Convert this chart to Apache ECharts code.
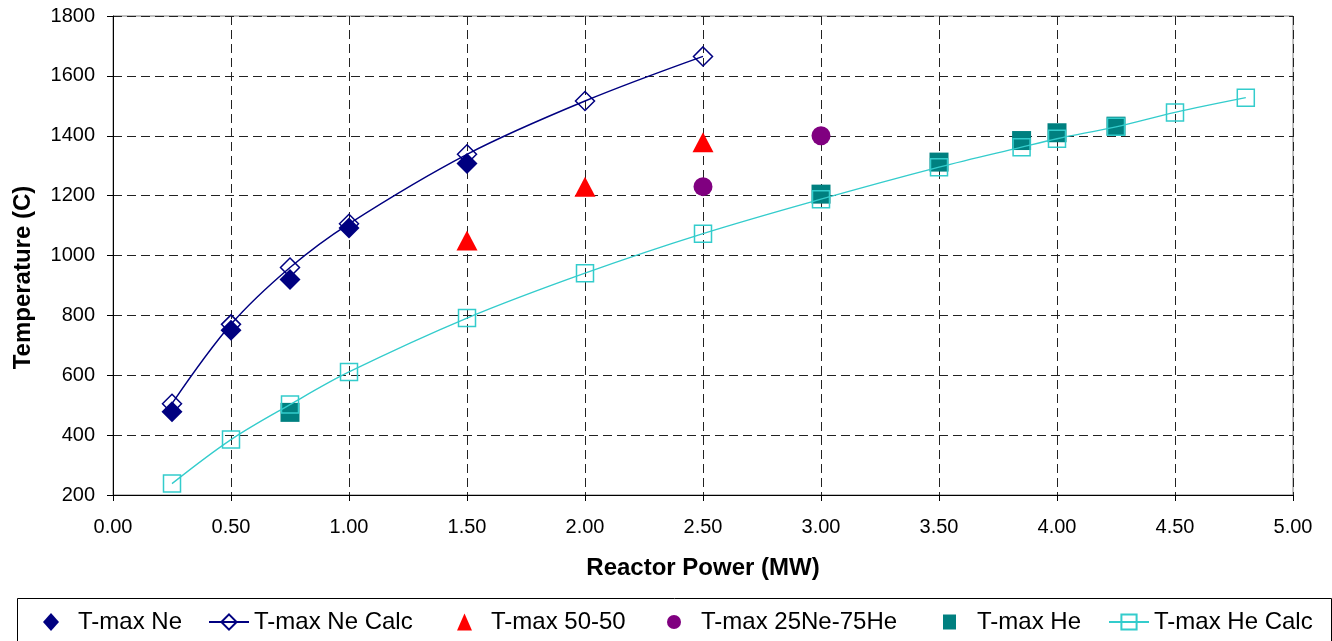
<!DOCTYPE html>
<html>
<head>
<meta charset="utf-8">
<script src="https://cdn.jsdelivr.net/npm/echarts@6/dist/echarts.min.js"></script>
<style>
  html, body { margin: 0; padding: 0; background: #fff; }
  #chart { width: 1332px; height: 641px; }
</style>
</head>
<body>
<div id="chart"></div>
<script>
// reactor power (MW) and max temperature (C) per series
const powerNe = [0.25, 0.5, 0.75, 1.0, 1.5]
const tempNe = [478, 750, 920, 1092, 1307]

const powerNeCalc = [0.25, 0.5, 0.75, 1.0, 1.5, 2.0, 2.5]
const tempNeCalc = [505, 770, 960, 1106, 1338, 1516, 1665]

const power5050 = [1.5, 2.0, 2.5]
const temp5050 = [1050, 1230, 1378]

const power25Ne = [2.5, 3.0]
const temp25Ne = [1230, 1400]

const powerHe = [0.75, 3.0, 3.5, 3.85, 4.0, 4.25]
const tempHe = [476, 1205, 1312, 1384, 1410, 1432]

const powerHeCalc = [0.25, 0.5, 0.75, 1.0, 1.5, 2.0, 2.5, 3.0, 3.5, 3.85, 4.0, 4.25, 4.5, 4.8]
const tempHeCalc = [238, 385, 502, 611, 791, 941, 1073, 1188, 1295, 1362, 1390, 1430, 1478, 1527]

const seriesNames = ['T-max Ne', 'T-max Ne Calc', 'T-max 50-50', 'T-max 25Ne-75He', 'T-max He', 'T-max He Calc']

const pairs = (xs, ys) => xs.map((x, i) => [x, ys[i]])

const FONT = 'Arial, "Liberation Sans", sans-serif'
const gridDash = { type: [9, 5], color: '#222', width: 1 }

// one legend block per entry so each sits where the reference has it
// [left, iconWidth, iconHeight, textPad]
const legendSlots = [
  [38, 16, 18, 14],
  [203, 40, 19, 0],
  [452, 15, 17, 14],
  [662, 14, 16, 15],
  [938, 13, 15, 16],
  [1103, 40, 19, 0]
]

const legends = seriesNames.map((name, i) => {
  const [left, w, h, pad] = legendSlots[i]
  return {
    data: [name],
    left,
    top: 605,
    itemWidth: w,
    itemHeight: h,
    selectedMode: false,
    textStyle: {
      fontSize: 24,
      color: '#000',
      fontFamily: FONT,
      padding: [0, 0, 0, pad]
    }
  }
})

const chart = echarts.init(document.getElementById('chart'), null, { renderer: 'canvas' })

chart.setOption({
  animation: false,
  backgroundColor: '#fff',
  textStyle: { fontFamily: FONT },
  grid: {
    left: 113,
    right: 39,
    top: 16,
    bottom: 146,
    show: true,
    borderColor: '#808080',
    borderWidth: 1
  },
  xAxis: {
    type: 'value',
    min: 0,
    max: 5,
    interval: 0.5,
    name: 'Reactor Power (MW)',
    nameLocation: 'middle',
    nameGap: 61,
    nameTextStyle: { fontSize: 24, fontWeight: 'bold', color: '#000', fontFamily: FONT },
    axisLine: { lineStyle: { color: '#000', width: 1 } },
    axisTick: { show: true, length: 6, lineStyle: { color: '#000' } },
    axisLabel: {
      color: '#000',
      fontSize: 20,
      margin: 22,
      formatter: (v) => v.toFixed(2)
    },
    splitLine: { show: true, lineStyle: gridDash }
  },
  yAxis: {
    type: 'value',
    min: 200,
    max: 1800,
    interval: 200,
    name: 'Temperature (C)',
    nameLocation: 'middle',
    nameGap: 78,
    nameTextStyle: {
      fontSize: 24,
      fontWeight: 'bold',
      color: '#000',
      fontFamily: FONT,
      padding: [0, 44, 0, 0]
    },
    axisLine: { show: true, lineStyle: { color: '#000', width: 1 } },
    axisTick: { show: true, length: 6, lineStyle: { color: '#000' } },
    axisLabel: { color: '#000', fontSize: 20, margin: 18, formatter: (v) => String(v) },
    splitLine: { show: true, lineStyle: gridDash }
  },
  legend: legends,
  graphic: [
    {
      type: 'rect',
      left: 15,
      top: 596,
      shape: { width: 1314, height: 60 },
      style: { fill: 'none', stroke: '#000', lineWidth: 1 },
      silent: true,
      z: -1
    }
  ],
  series: [
    {
      name: 'T-max Ne',
      type: 'scatter',
      symbol: 'diamond',
      symbolSize: 21,
      itemStyle: { color: '#000080', opacity: 1 },
      data: pairs(powerNe, tempNe)
    },
    {
      name: 'T-max Ne Calc',
      type: 'line',
      smooth: 0.35,
      symbol: 'diamond',
      symbolSize: 19,
      showAllSymbol: true,
      lineStyle: { color: '#000080', width: 1.5 },
      itemStyle: { color: 'transparent', borderColor: '#000080', borderWidth: 1.5 },
      data: pairs(powerNeCalc, tempNeCalc)
    },
    {
      name: 'T-max 50-50',
      type: 'scatter',
      symbol: 'triangle',
      symbolSize: [21, 20],
      itemStyle: { color: '#ff0000', opacity: 1 },
      data: pairs(power5050, temp5050)
    },
    {
      name: 'T-max 25Ne-75He',
      type: 'scatter',
      symbol: 'circle',
      symbolSize: 19,
      itemStyle: { color: '#800080', opacity: 1 },
      data: pairs(power25Ne, temp25Ne)
    },
    {
      name: 'T-max He',
      type: 'scatter',
      symbol: 'rect',
      symbolSize: 19,
      itemStyle: { color: '#008080', opacity: 1 },
      data: pairs(powerHe, tempHe)
    },
    {
      name: 'T-max He Calc',
      type: 'line',
      smooth: 0.35,
      symbol: 'rect',
      symbolSize: 17,
      showAllSymbol: true,
      lineStyle: { color: '#33cccc', width: 1.3 },
      itemStyle: { color: 'transparent', borderColor: '#33cccc', borderWidth: 1.5 },
      data: pairs(powerHeCalc, tempHeCalc)
    }
  ]
})

window.addEventListener('resize', () => chart.resize())
</script>
</body>
</html>
